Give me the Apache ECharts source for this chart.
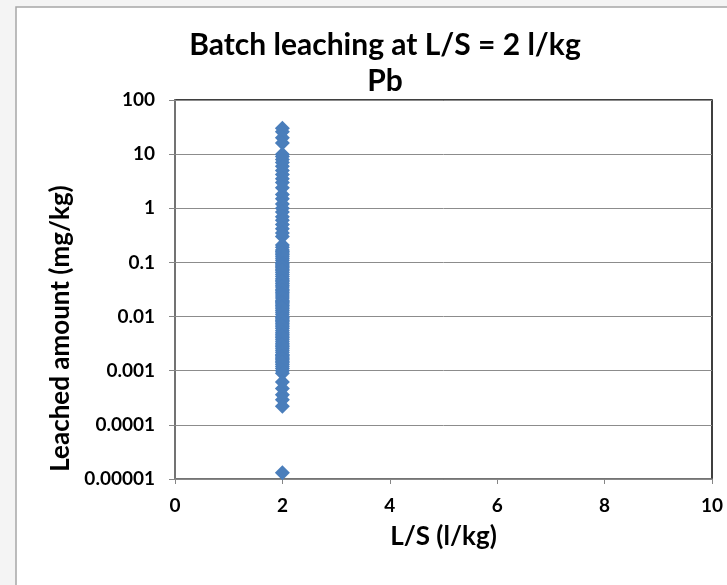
<!DOCTYPE html>
<html>
<head>
<meta charset="utf-8">
<script src="https://cdn.jsdelivr.net/npm/echarts@6/dist/echarts.min.js"></script>
<style>
  html, body { margin: 0; padding: 0; background: #f4f4f4; }
  #chart { width: 727px; height: 585px; }
</style>
</head>
<body>
<div id="chart"></div>
<script>
// L/S ratio of the batch test (all samples at L/S = 2)
const lsRatio = 2
// leached Pb amounts (mg/kg)
const leached = [
  30, 26, 20, 16, 10, 9, 8, 7, 6, 5, 4.2, 3.5, 3, 2.4, 1.8, 1.5, 1.2, 1,
  0.85, 0.7, 0.6, 0.5, 0.42, 0.35, 0.3,
  0.21, 0.19, 0.17, 0.16, 0.15, 0.14, 0.13, 0.12, 0.11, 0.1,
  0.095, 0.09, 0.085, 0.08, 0.075, 0.07, 0.065, 0.06, 0.055, 0.05,
  0.047, 0.044, 0.041, 0.038, 0.035, 0.032, 0.03, 0.028, 0.026, 0.024,
  0.022, 0.02, 0.019, 0.018, 0.017, 0.016, 0.015, 0.014, 0.013, 0.012, 0.011, 0.01,
  0.0095, 0.009, 0.0085, 0.008, 0.0075, 0.007, 0.0065, 0.006, 0.0055, 0.005,
  0.0047, 0.0044, 0.0041, 0.0038, 0.0035, 0.0032, 0.003, 0.0028, 0.0026, 0.0024,
  0.0022, 0.002, 0.0019, 0.0018, 0.0017, 0.0016, 0.0015, 0.0014, 0.0013, 0.0012,
  0.0011, 0.001, 0.0009,
  0.00062, 0.00047, 0.00036, 0.00029, 0.00022,
  0.000013
]
const xTicks = [0, 2, 4, 6, 8, 10]
const yTicks = [0.00001, 0.0001, 0.001, 0.01, 0.1, 1, 10, 100]

const font = 'Lato, "Open Sans", sans-serif'
const chart = echarts.init(document.getElementById('chart'))

chart.setOption({
  backgroundColor: '#f4f4f4',
  textStyle: { fontFamily: font },
  graphic: [{
    type: 'rect',
    z: -100,
    silent: true,
    shape: { x: 16, y: 7, width: 730, height: 600 },
    style: { fill: '#ffffff', stroke: '#a6a6a6', lineWidth: 1.5 }
  }],
  title: {
    text: 'Batch leaching at L/S = 2 l/kg\nPb',
    left: 380,
    textAlign: 'center',
    top: 22,
    textStyle: {
      fontFamily: font,
      fontWeight: 'bold',
      fontSize: 30,
      lineHeight: 36,
      color: '#000'
    }
  },
  grid: {
    left: 175,
    right: 15,
    top: 100,
    bottom: 106,
    show: true,
    borderColor: '#000',
    borderWidth: 1.5,
    backgroundColor: 'transparent'
  },
  xAxis: {
    type: 'value',
    min: xTicks[0],
    max: xTicks[xTicks.length - 1],
    interval: 2,
    name: 'L/S (l/kg)',
    nameLocation: 'middle',
    nameGap: 45,
    nameTextStyle: { fontWeight: 'bold', fontSize: 26, color: '#000', fontFamily: font },
    axisLine: { lineStyle: { color: '#868686', width: 1.5 } },
    axisTick: { show: true, length: 5, lineStyle: { color: '#868686' } },
    axisLabel: { fontWeight: 'bold', fontSize: 19, color: '#000', margin: 17, fontFamily: font },
    splitLine: { show: false }
  },
  yAxis: {
    type: 'log',
    logBase: 10,
    min: yTicks[0],
    max: yTicks[yTicks.length - 1],
    name: 'Leached amount (mg/kg)',
    nameLocation: 'middle',
    nameGap: 79,
    nameTextStyle: {
      fontWeight: 'bold', fontSize: 26, color: '#000', fontFamily: font,
      padding: [0, 78, 0, 0]
    },
    axisLine: { show: true, lineStyle: { color: '#868686', width: 1.5 } },
    axisTick: { show: true, length: 6, lineStyle: { color: '#868686' } },
    axisLabel: {
      fontWeight: 'bold',
      fontSize: 19,
      color: '#000',
      margin: 20,
      fontFamily: font,
      formatter: (v) => {
        if (v >= 1) return String(Math.round(v))
        const d = Math.round(-Math.log10(v))
        return v.toFixed(d)
      }
    },
    splitLine: { show: true, lineStyle: { color: '#8c8c8c', width: 1 } }
  },
  series: [{
    type: 'scatter',
    symbol: 'diamond',
    symbolSize: [15, 15],
    itemStyle: { color: '#4a7ebb', opacity: 1 },
    data: leached.map(v => [lsRatio, v])
  }]
})
</script>
</body>
</html>
